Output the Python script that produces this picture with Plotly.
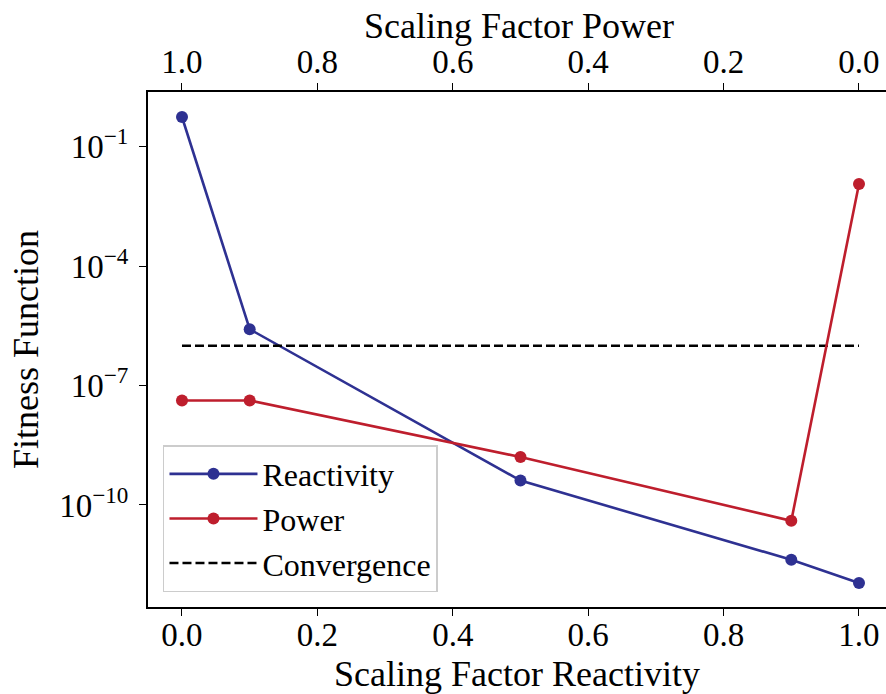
import plotly.graph_objects as go

# Scaling factors and fitness values
reactivity_scale = [0.0, 0.1, 0.5, 0.9, 1.0]
reactivity_fitness = [0.557, 2.6e-6, 4.1e-10, 4.2e-12, 1.1e-12]

power_scale = [1.0, 0.9, 0.5, 0.1, 0.0]
power_fitness = [4.2e-8, 4.2e-8, 1.6e-9, 4.0e-11, 0.0116]

convergence_x = [0.0, 1.0]
convergence_level = [1e-6, 1e-6]

x_ticks = [0.0, 0.2, 0.4, 0.6, 0.8, 1.0]
y_ticks = [1e-1, 1e-4, 1e-7, 1e-10]
y_tick_labels = ["10<sup>\u22121</sup>", "10<sup>\u22124</sup>",
                 "10<sup>\u22127</sup>", "10<sup>\u221210</sup>"]

BLUE = "#2E3192"
RED = "#BE1E2D"
FONT = "Liberation Serif, serif"

fig = go.Figure()

fig.add_trace(go.Scatter(
    x=reactivity_scale, y=reactivity_fitness, name="Reactivity",
    mode="lines+markers", xaxis="x", yaxis="y",
    line=dict(color=BLUE, width=2.6), marker=dict(color=BLUE, size=12),
))
fig.add_trace(go.Scatter(
    x=power_scale, y=power_fitness, name="Power",
    mode="lines+markers", xaxis="x2", yaxis="y",
    line=dict(color=RED, width=2.6), marker=dict(color=RED, size=12),
))
fig.add_trace(go.Scatter(
    x=convergence_x, y=convergence_level, name="Convergence",
    mode="lines", xaxis="x", yaxis="y",
    line=dict(color="black", width=2.6, dash="9px,4px"),
))

axis_common = dict(
    showgrid=False, zeroline=False, showline=True, linecolor="black",
    linewidth=2, ticks="outside", ticklen=7, tickwidth=1.3, tickcolor="black",
    tickfont=dict(family=FONT, size=33, color="black"), automargin=False,
)

x_lo, x_hi = -0.0502, 1.0399

fig.update_layout(
    width=886, height=694,
    margin=dict(l=148, r=0, t=92, b=87),
    paper_bgcolor="white", plot_bgcolor="white",
    font=dict(family=FONT, color="black"),
    xaxis=dict(
        **axis_common, range=[x_lo, x_hi], tickvals=x_ticks, tickformat=".1f",
        mirror=False, ticklabelstandoff=-10,
        title=dict(text="Scaling Factor Reactivity",
                   font=dict(family=FONT, size=36), standoff=10),
    ),
    xaxis2=dict(
        **axis_common, range=[1 - x_lo, 1 - x_hi], tickvals=x_ticks,
        tickformat=".1f", overlaying="x", side="top", anchor="y",
        ticklabelstandoff=-3,
    ),
    yaxis=dict(
        **axis_common, type="log", range=[-12.563, 0.374],
        tickvals=y_ticks, ticktext=y_tick_labels, mirror=False,
        ticklabelstandoff=4,
        title=dict(text="Fitness Function",
                   font=dict(family=FONT, size=36), standoff=10),
    ),
    legend=dict(
        x=0.0203, y=0.029, xanchor="left", yanchor="bottom",
        bgcolor="rgba(255,255,255,0.8)", bordercolor="#cccccc", borderwidth=1.5,
        font=dict(family=FONT, size=32, color="black"),
        itemwidth=88, tracegroupgap=0,
    ),
    showlegend=True,
)

# Title for the top (power) axis
fig.add_annotation(
    text="Scaling Factor Power", xref="paper", yref="paper",
    x=0.5027, y=1.1282, xanchor="center", yanchor="middle",
    showarrow=False, font=dict(family=FONT, size=36, color="black"),
)

fig.write_html("out.html")
